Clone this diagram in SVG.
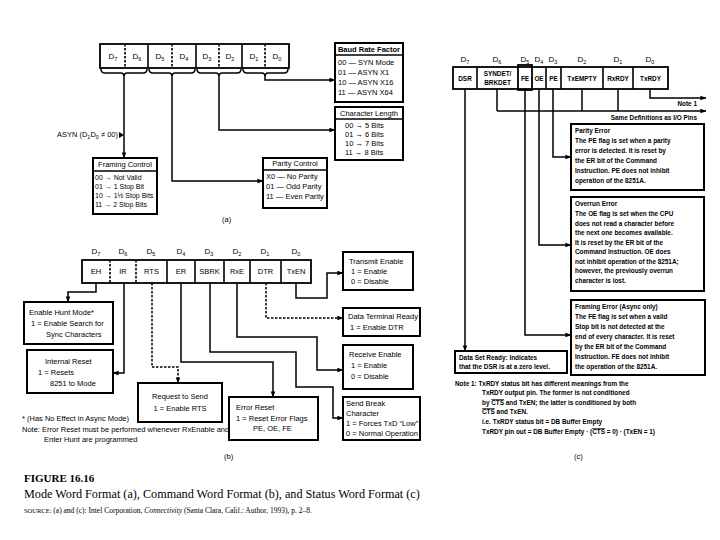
<svg xmlns="http://www.w3.org/2000/svg" width="720" height="540" viewBox="0 0 720 540">
<defs>
<marker id="ah" viewBox="0 0 8 8" refX="7.5" refY="4" markerWidth="6" markerHeight="6" orient="auto" markerUnits="userSpaceOnUse"><path d="M0,1 L8,4 L0,7 Z" fill="#000"/></marker>
</defs>
<style>
.box{fill:#fff;stroke:#000;stroke-width:2}
.cell{fill:none;stroke:#000;stroke-width:1.8}
.div{stroke:#000;stroke-width:1.6}
.dsh{stroke-dasharray:2.5 1.5}
.ln{fill:none;stroke:#000;stroke-width:1.5}
.arr{marker-end:url(#ah)}
.t{font-family:"Liberation Sans",Arial,sans-serif;font-size:7.5px;fill:#000}
.s{font-size:7px}
.m{text-anchor:middle}
.c{font-family:"Liberation Sans",Arial,sans-serif;font-size:6.4px;font-weight:bold;fill:#000}
.d{font-family:"Liberation Sans",Arial,sans-serif;font-size:8px;fill:#000;text-anchor:middle}
.cap{font-family:"Liberation Serif","Times New Roman",serif;fill:#000}
.ov{text-decoration:overline}
</style>
<rect width="720" height="540" fill="#fff"/>

<!-- (a) Mode word -->
<g id="mode-word">
<rect class="cell" x="100" y="44" width="189" height="24"/>
<line class="div dsh" x1="125" y1="44" x2="125" y2="68"/>
<line class="div" x1="148" y1="44" x2="148" y2="68"/>
<line class="div dsh" x1="172" y1="44" x2="172" y2="68"/>
<line class="div" x1="196" y1="44" x2="196" y2="68"/>
<line class="div dsh" x1="219" y1="44" x2="219" y2="68"/>
<line class="div" x1="242" y1="44" x2="242" y2="68"/>
<line class="div dsh" x1="265" y1="44" x2="265" y2="68"/>
<text class="d" x="113" y="59">D<tspan font-size="5.5" dy="2">7</tspan></text>
<text class="d" x="137" y="59">D<tspan font-size="5.5" dy="2">6</tspan></text>
<text class="d" x="160" y="59">D<tspan font-size="5.5" dy="2">5</tspan></text>
<text class="d" x="184" y="59">D<tspan font-size="5.5" dy="2">4</tspan></text>
<text class="d" x="207" y="59">D<tspan font-size="5.5" dy="2">3</tspan></text>
<text class="d" x="230" y="59">D<tspan font-size="5.5" dy="2">2</tspan></text>
<text class="d" x="254" y="59">D<tspan font-size="5.5" dy="2">1</tspan></text>
<text class="d" x="277" y="59">D<tspan font-size="5.5" dy="2">0</tspan></text>
<path class="ln" d="M101,69 q0,4 4,4 H121 q3,0 3,4 q0,-4 3,-4 H143 q4,0 4,-4"/>
<path class="ln" d="M149,69 q0,4 4,4 H169 q3,0 3,4 q0,-4 3,-4 H191 q4,0 4,-4"/>
<path class="ln" d="M197,69 q0,4 4,4 H216 q3,0 3,4 q0,-4 3,-4 H237 q4,0 4,-4"/>
<path class="ln" d="M243,69 q0,4 4,4 H262 q3,0 3,4 q0,-4 3,-4 H284 q4,0 4,-4"/>
</g>

<g id="baud-rate-factor">
<rect class="box" x="335" y="43" width="68" height="59"/>
<line class="div" x1="335" y1="55" x2="403" y2="55"/>
<text class="t m" x="369" y="52" font-weight="bold">Baud Rate Factor</text>
<text class="t" x="338" y="65">00 — SYN Mode</text>
<text class="t" x="338" y="75">01 — ASYN X1</text>
<text class="t" x="338" y="85">10 — ASYN X16</text>
<text class="t" x="338" y="95">11 — ASYN X64</text>
</g>

<g id="character-length">
<rect class="box" x="335" y="107" width="68" height="53"/>
<line class="div" x1="335" y1="119" x2="403" y2="119"/>
<text class="t m" x="369" y="116">Character Length</text>
<text class="t" x="345" y="128">00 → 5 Bits</text>
<text class="t" x="345" y="137">01 → 6 Bits</text>
<text class="t" x="345" y="146">10 → 7 Bits</text>
<text class="t" x="345" y="155">11 → 8 Bits</text>
</g>

<g id="framing-control">
<rect class="box" x="93" y="158" width="64" height="56"/>
<line class="div" x1="93" y1="171" x2="157" y2="171"/>
<text class="t m" x="125" y="167">Framing Control</text>
<text class="t s" x="95" y="180">00 → Not Valid</text>
<text class="t s" x="95" y="189">01 → 1 Stop Bit</text>
<text class="t s" x="95" y="198">10 → 1½ Stop Bits</text>
<text class="t s" x="95" y="207">11 → 2 Stop Bits</text>
</g>

<g id="parity-control">
<rect class="box" x="263" y="158" width="64" height="50"/>
<line class="div" x1="263" y1="170" x2="327" y2="170"/>
<text class="t m" x="295" y="166">Parity Control</text>
<text class="t" x="266" y="179">X0 — No Parity</text>
<text class="t" x="266" y="189">01 — Odd Parity</text>
<text class="t" x="266" y="199">11 — Even Parity</text>
</g>

<g id="asyn-label">
<text class="t" x="118" y="137" text-anchor="end">ASYN (D<tspan font-size="5.5" dy="1.5">1</tspan><tspan dy="-1.5">D</tspan><tspan font-size="5.5" dy="1.5">0</tspan><tspan dy="-1.5"> ≠ 00)</tspan></text>
<path d="M119,132 L124,135 L119,138 Z" fill="#000"/>
<text class="t" x="222" y="222">(a)</text>
</g>

<!-- (b) Command word -->
<g id="command-word">
<rect class="cell" x="82" y="260" width="229" height="23"/>
<line class="div dsh" x1="110" y1="260" x2="110" y2="283"/>
<line class="div dsh" x1="136" y1="260" x2="136" y2="283"/>
<line class="div" x1="167" y1="260" x2="167" y2="283"/>
<line class="div" x1="195" y1="260" x2="195" y2="283"/>
<line class="div" x1="224" y1="260" x2="224" y2="283"/>
<line class="div" x1="250" y1="260" x2="250" y2="283"/>
<line class="div" x1="281" y1="260" x2="281" y2="283"/>
<text class="d" x="96" y="254">D<tspan font-size="5.5" dy="2">7</tspan></text>
<text class="d" x="123" y="254">D<tspan font-size="5.5" dy="2">6</tspan></text>
<text class="d" x="151" y="254">D<tspan font-size="5.5" dy="2">5</tspan></text>
<text class="d" x="181" y="254">D<tspan font-size="5.5" dy="2">4</tspan></text>
<text class="d" x="209" y="254">D<tspan font-size="5.5" dy="2">3</tspan></text>
<text class="d" x="237" y="254">D<tspan font-size="5.5" dy="2">2</tspan></text>
<text class="d" x="265" y="254">D<tspan font-size="5.5" dy="2">1</tspan></text>
<text class="d" x="296" y="254">D<tspan font-size="5.5" dy="2">0</tspan></text>
<text class="t m" x="96" y="274">EH</text>
<text class="t m" x="123" y="274">IR</text>
<text class="t m" x="151.5" y="274">RTS</text>
<text class="t m" x="181" y="274">ER</text>
<text class="t m" x="209.5" y="274">SBRK</text>
<text class="t m" x="237" y="274">RxE</text>
<text class="t m" x="265.5" y="274">DTR</text>
<text class="t m" x="296" y="274">TxEN</text>
</g>

<g id="enable-hunt">
<rect class="box" x="24" y="302" width="89" height="42"/>
<text class="t" x="29" y="315">Enable Hunt Mode*</text>
<text class="t" x="31" y="326">1 = Enable Search for</text>
<text class="t" x="46" y="337">Sync Characters</text>
</g>
<g id="internal-reset">
<rect class="box" x="27" y="350" width="86" height="43"/>
<text class="t" x="45" y="364">Internal Reset</text>
<text class="t" x="38" y="375">1 = Resets</text>
<text class="t" x="50" y="386">8251 to Mode</text>
</g>
<g id="request-to-send">
<rect class="box" x="138" y="383" width="84" height="39"/>
<text class="t m" x="180" y="399">Request to Send</text>
<text class="t m" x="180" y="411">1 = Enable RTS</text>
</g>
<g id="error-reset">
<rect class="box" x="229" y="397" width="89" height="43"/>
<text class="t" x="236" y="410">Error Reset</text>
<text class="t" x="236" y="421">1 = Reset Error Flags</text>
<text class="t" x="253" y="431">PE, OE, FE</text>
</g>
<g id="transmit-enable">
<rect class="box" x="343" y="252" width="70" height="38"/>
<text class="t" x="349" y="264">Transmit Enable</text>
<text class="t" x="351" y="274">1 = Enable</text>
<text class="t" x="351" y="284">0 = Disable</text>
</g>
<g id="data-terminal-ready">
<rect class="box" x="343" y="308" width="77" height="28"/>
<text class="t" x="348" y="319">Data Terminal Ready</text>
<text class="t" x="350" y="330">1 = Enable DTR</text>
</g>
<g id="receive-enable">
<rect class="box" x="343" y="345" width="70" height="44"/>
<text class="t" x="349" y="357">Receive Enable</text>
<text class="t" x="351" y="368">1 = Enable</text>
<text class="t" x="351" y="379">0 = Disable</text>
</g>
<g id="send-break">
<rect class="box" x="343" y="397" width="77" height="43"/>
<text class="t" x="346" y="406">Send Break</text>
<text class="t" x="346" y="416">Character</text>
<text class="t" x="346" y="426">1 = Forces TxD “Low”</text>
<text class="t" x="346" y="436">0 = Normal Operation</text>
</g>
<g id="notes-b">
<text class="t" x="22" y="421" font-size="6.7">* (Has No Effect in Async Mode)</text>
<text class="t" x="22" y="432" font-size="6.7">Note: Error Reset must be performed whenever RxEnable and</text>
<text class="t" x="44" y="442" font-size="6.7">Enter Hunt are programmed</text>
<text class="t" x="224" y="459">(b)</text>
</g>

<!-- (c) Status word -->
<g id="status-word">
<rect class="cell" x="453" y="67" width="215" height="22"/>
<rect class="cell" x="518" y="65" width="14" height="25"/>
<line class="div" x1="477" y1="67" x2="477" y2="89"/>
<line class="div" x1="546" y1="67" x2="546" y2="89"/>
<line class="div" x1="561" y1="67" x2="561" y2="89"/>
<line class="div" x1="603" y1="67" x2="603" y2="89"/>
<line class="div" x1="633" y1="67" x2="633" y2="89"/>
<text class="d" x="465" y="62">D<tspan font-size="5.5" dy="2">7</tspan></text>
<text class="d" x="497" y="62">D<tspan font-size="5.5" dy="2">6</tspan></text>
<text class="d" x="525" y="62">D<tspan font-size="5.5" dy="2">5</tspan></text>
<text class="d" x="539" y="62">D<tspan font-size="5.5" dy="2">4</tspan></text>
<text class="d" x="553" y="62">D<tspan font-size="5.5" dy="2">3</tspan></text>
<text class="d" x="582" y="62">D<tspan font-size="5.5" dy="2">2</tspan></text>
<text class="d" x="618" y="62">D<tspan font-size="5.5" dy="2">1</tspan></text>
<text class="d" x="650" y="62">D<tspan font-size="5.5" dy="2">0</tspan></text>
<text class="c m" x="465" y="81">DSR</text>
<text class="c m" x="497.5" y="76">SYNDET/</text>
<text class="c m" x="497.5" y="85">BRKDET</text>
<text class="c m" x="525" y="81">FE</text>
<text class="c m" x="539" y="81">OE</text>
<text class="c m" x="553.5" y="81">PE</text>
<text class="c m" x="582" y="81">TxEMPTY</text>
<text class="c m" x="618" y="81">RxRDY</text>
<text class="c m" x="650.5" y="81">TxRDY</text>
<text class="c" x="697" y="106" text-anchor="end">Note 1</text>
<text class="c" x="697" y="120" text-anchor="end">Same Definitions as I/O Pins</text>
</g>

<g id="parity-error">
<rect class="box" x="571" y="124" width="133" height="66"/>
<text class="c" x="575" y="133">Parity Error</text>
<text class="c" x="575" y="143">The PE flag is set when a parity</text>
<text class="c" x="575" y="153">error is detected. It is reset by</text>
<text class="c" x="575" y="163">the ER bit of the Command</text>
<text class="c" x="575" y="173">Instruction. PE does not inhibit</text>
<text class="c" x="575" y="183">operation of the 8251A.</text>
</g>
<g id="overrun-error">
<rect class="box" x="571" y="197" width="133" height="94"/>
<text class="c" x="575" y="206">Overrun Error</text>
<text class="c" x="575" y="216">The OE flag is set when the CPU</text>
<text class="c" x="575" y="225.5">does not read a character before</text>
<text class="c" x="575" y="235">the next one becomes available.</text>
<text class="c" x="575" y="244.5">It is reset by the ER bit of the</text>
<text class="c" x="575" y="254">Command Instruction. OE does</text>
<text class="c" x="575" y="263.5">not inhibit operation of the 8251A;</text>
<text class="c" x="575" y="273">however, the previously overrun</text>
<text class="c" x="575" y="282.5">character is lost.</text>
</g>
<g id="framing-error">
<rect class="box" x="571" y="300" width="134" height="75"/>
<text class="c" x="575" y="309">Framing Error (Async only)</text>
<text class="c" x="575" y="319">The FE flag is set when a valid</text>
<text class="c" x="575" y="329">Stop bit is not detected at the</text>
<text class="c" x="575" y="339">end of every character. It is reset</text>
<text class="c" x="575" y="349">by the ER bit of the Command</text>
<text class="c" x="575" y="359">Instruction. FE does not inhibit</text>
<text class="c" x="575" y="369">the operation of the 8251A.</text>
</g>
<g id="data-set-ready">
<rect class="box" x="455" y="351" width="112" height="22"/>
<text class="c" x="459" y="360">Data Set Ready: Indicates</text>
<text class="c" x="459" y="369">that the DSR is at a zero level.</text>
</g>
<g id="notes-c">
<text class="c" x="455" y="386">Note 1: TxRDY status bit has different meanings from the</text>
<text class="c" x="482" y="395">TxRDY output pin. The former is not conditioned</text>
<text class="c" x="482" y="405">by <tspan class="ov">CTS</tspan> and TxEN; the latter is conditioned by both</text>
<text class="c" x="482" y="414"><tspan class="ov">CTS</tspan> and TxEN.</text>
<text class="c" x="482" y="424">i.e. TxRDY status bit = DB Buffer Empty</text>
<text class="c" x="482" y="434">TxRDY pin out = DB Buffer Empty · (<tspan class="ov">CTS</tspan> = 0) · (TxEN = 1)</text>
<text class="t" x="574" y="459">(c)</text>
</g>

<g id="connectors">
<path class="ln arr" d="M124,77 V158"/>
<path class="ln arr" d="M172,77 V181 H263"/>
<path class="ln arr" d="M219,77 V130 H335"/>
<path class="ln arr" d="M265,77 V80 H335"/>
<path class="ln arr" d="M96,283 V292 H68 V302"/>
<path class="ln arr" d="M124,283 V373 H113"/>
<path class="ln arr dsh" d="M152,283 V367 H178 V383"/>
<path class="ln arr" d="M181,283 V362 H273 V397"/>
<path class="ln arr" d="M210,283 V352 H296 V387 H333 V418 H343"/>
<path class="ln arr" d="M237,283 V337 H317 V370 H343"/>
<path class="ln arr dsh" d="M266,283 V318 H343"/>
<path class="ln arr" d="M296,283 V298 H327 V273 H343"/>
<path class="ln arr" d="M465,89 V351"/>
<path class="ln" d="M497,89 V111"/>
<path class="ln" d="M582,89 V111"/>
<path class="ln" d="M618,89 V111"/>
<path class="ln arr" d="M497,111 H706"/>
<path class="ln arr" d="M650,89 V98 H706"/>
<path class="ln arr" d="M553,89 V157 H571"/>
<path class="ln arr" d="M539,89 V245 H571"/>
<path class="ln arr" d="M525,90 V335 H571"/>
</g>

<g id="caption">
<text class="cap" x="24" y="482" font-size="11" font-weight="bold">FIGURE 16.16</text>
<text class="cap" x="24" y="498" font-size="12.2">Mode Word Format (a), Command Word Format (b), and Status Word Format (c)</text>
<text class="cap" x="24" y="513" font-size="7.5"><tspan font-size="6.5">SOURCE:</tspan> (a) and (c): Intel Corporation, <tspan font-style="italic">Connectivity</tspan> (Santa Clara, Calif.: Author, 1993), p. 2–8.</text>
</g>
</svg>
